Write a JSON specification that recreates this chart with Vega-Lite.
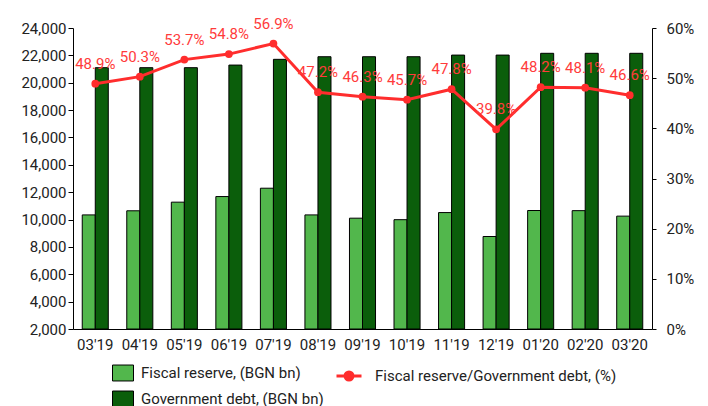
{
  "$schema": "https://vega.github.io/schema/vega-lite/v6.json",
  "width": 579,
  "height": 301,
  "autosize": {"type": "none"},
  "padding": {"left": 73, "top": 28, "right": 56, "bottom": 77},
  "config": {
    "font": "Roboto",
    "view": {"stroke": null},
    "axis": {"labelFont": "Roboto", "labelFontSize": 15, "labelColor": "#222", "domainColor": "#000", "tickColor": "#000", "grid": false, "title": null},
    "legend": {"labelFont": "Roboto", "labelFontSize": 15, "labelColor": "#222", "labelLimit": 400}
  },
  "datasets": {
    "bars": [
      {"month": "03'19", "series": "Fiscal reserve, (BGN bn)", "value": 10340},
      {"month": "03'19", "series": "Government debt, (BGN bn)", "value": 21100},
      {"month": "04'19", "series": "Fiscal reserve, (BGN bn)", "value": 10640},
      {"month": "04'19", "series": "Government debt, (BGN bn)", "value": 21100},
      {"month": "05'19", "series": "Fiscal reserve, (BGN bn)", "value": 11270},
      {"month": "05'19", "series": "Government debt, (BGN bn)", "value": 21100},
      {"month": "06'19", "series": "Fiscal reserve, (BGN bn)", "value": 11680},
      {"month": "06'19", "series": "Government debt, (BGN bn)", "value": 21290},
      {"month": "07'19", "series": "Fiscal reserve, (BGN bn)", "value": 12290},
      {"month": "07'19", "series": "Government debt, (BGN bn)", "value": 21710},
      {"month": "08'19", "series": "Fiscal reserve, (BGN bn)", "value": 10340},
      {"month": "08'19", "series": "Government debt, (BGN bn)", "value": 21900},
      {"month": "09'19", "series": "Fiscal reserve, (BGN bn)", "value": 10100},
      {"month": "09'19", "series": "Government debt, (BGN bn)", "value": 21900},
      {"month": "10'19", "series": "Fiscal reserve, (BGN bn)", "value": 9990},
      {"month": "10'19", "series": "Government debt, (BGN bn)", "value": 21900},
      {"month": "11'19", "series": "Fiscal reserve, (BGN bn)", "value": 10510},
      {"month": "11'19", "series": "Government debt, (BGN bn)", "value": 22020},
      {"month": "12'19", "series": "Fiscal reserve, (BGN bn)", "value": 8760},
      {"month": "12'19", "series": "Government debt, (BGN bn)", "value": 22020},
      {"month": "01'20", "series": "Fiscal reserve, (BGN bn)", "value": 10660},
      {"month": "01'20", "series": "Government debt, (BGN bn)", "value": 22150},
      {"month": "02'20", "series": "Fiscal reserve, (BGN bn)", "value": 10650},
      {"month": "02'20", "series": "Government debt, (BGN bn)", "value": 22150},
      {"month": "03'20", "series": "Fiscal reserve, (BGN bn)", "value": 10250},
      {"month": "03'20", "series": "Government debt, (BGN bn)", "value": 22150}
    ],
    "ratio": [
      {"month": "03'19", "ratio": 0.489, "label": "Fiscal reserve/Government debt, (%)"},
      {"month": "04'19", "ratio": 0.503, "label": "Fiscal reserve/Government debt, (%)"},
      {"month": "05'19", "ratio": 0.537, "label": "Fiscal reserve/Government debt, (%)"},
      {"month": "06'19", "ratio": 0.548, "label": "Fiscal reserve/Government debt, (%)"},
      {"month": "07'19", "ratio": 0.569, "label": "Fiscal reserve/Government debt, (%)"},
      {"month": "08'19", "ratio": 0.472, "label": "Fiscal reserve/Government debt, (%)"},
      {"month": "09'19", "ratio": 0.463, "label": "Fiscal reserve/Government debt, (%)"},
      {"month": "10'19", "ratio": 0.457, "label": "Fiscal reserve/Government debt, (%)"},
      {"month": "11'19", "ratio": 0.478, "label": "Fiscal reserve/Government debt, (%)"},
      {"month": "12'19", "ratio": 0.398, "label": "Fiscal reserve/Government debt, (%)"},
      {"month": "01'20", "ratio": 0.482, "label": "Fiscal reserve/Government debt, (%)"},
      {"month": "02'20", "ratio": 0.481, "label": "Fiscal reserve/Government debt, (%)"},
      {"month": "03'20", "ratio": 0.466, "label": "Fiscal reserve/Government debt, (%)"}
    ]
  },
  "encoding": {
    "x": {
      "field": "month", "type": "ordinal", "sort": null,
      "scale": {"paddingInner": 0.415, "paddingOuter": 0.2075},
      "axis": {"labelAngle": 0, "ticks": false, "labelPadding": 8, "domainWidth": 1}
    }
  },
  "layer": [
    {
      "data": {"name": "bars"},
      "mark": {"type": "bar", "stroke": "#000", "strokeWidth": 1},
      "encoding": {
        "xOffset": {"field": "series", "type": "nominal", "scale": {"paddingInner": 0, "paddingOuter": 0}},
        "y": {
          "field": "value", "type": "quantitative",
          "scale": {"domain": [2000, 24000], "nice": false, "zero": false},
          "axis": {"orient": "left", "values": [2000,4000,6000,8000,10000,12000,14000,16000,18000,20000,22000,24000], "format": ",d", "tickSize": 5, "labelPadding": 2}
        },
        "y2": {"datum": 2000},
        "color": {
          "field": "series", "type": "nominal",
          "scale": {"domain": ["Fiscal reserve, (BGN bn)", "Government debt, (BGN bn)"], "range": ["#52b74c", "#0b5e0b"]},
          "legend": {
            "orient": "none", "legendX": 39, "legendY": 334, "title": null, "padding": 0,
            "direction": "vertical", "rowPadding": 5, "labelOffset": 7,
            "symbolType": "M-1,-0.76H1V0.76H-1Z", "symbolSize": 441,
            "symbolStrokeColor": "#000", "symbolStrokeWidth": 1, "symbolOpacity": 1
          }
        }
      }
    },
    {
      "data": {"name": "ratio"},
      "layer": [
        {
          "mark": {"type": "line", "strokeWidth": 3},
          "encoding": {
            "y": {
              "field": "ratio", "type": "quantitative",
              "scale": {"domain": [0, 0.6], "nice": false},
              "axis": {"orient": "right", "values": [0,0.05,0.1,0.15,0.2,0.25,0.3,0.35,0.4,0.45,0.5,0.55,0.6], "format": ".0%", "tickSize": 4, "labelPadding": 10}
            },
            "stroke": {
              "field": "label", "type": "nominal",
              "scale": {"range": ["#ff2d2d"]},
              "legend": {
                "orient": "none", "legendX": 262, "legendY": 334, "title": null, "padding": 0,
                "labelOffset": 12,
                "symbolType": "M-1,0H1M-0.32,0A0.32,0.32 0 1,0 0.32,0A0.32,0.32 0 1,0 -0.32,0Z",
                "symbolSize": 625, "symbolStrokeWidth": 3,
                "symbolFillColor": "#ff2d2d"
              }
            }
          }
        },
        {
          "mark": {"type": "point", "filled": true, "size": 60, "color": "#ff2d2d", "opacity": 1},
          "encoding": {"y": {"field": "ratio", "type": "quantitative"}}
        },
        {
          "mark": {"type": "text", "dy": -20, "fontSize": 15, "color": "#ff3b3b", "font": "Roboto"},
          "encoding": {
            "y": {"field": "ratio", "type": "quantitative"},
            "text": {"field": "ratio", "type": "quantitative", "format": ".1%"}
          }
        }
      ]
    }
  ],
  "resolve": {"scale": {"y": "independent", "color": "independent"}}
}
